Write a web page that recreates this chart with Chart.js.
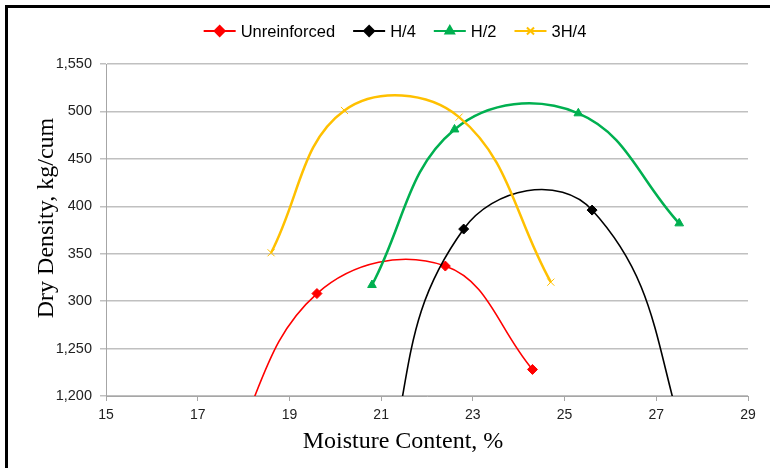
<!DOCTYPE html>
<html>
<head>
<meta charset="utf-8">
<script src="https://cdn.jsdelivr.net/npm/chart.js@4.4.1/dist/chart.umd.min.js"></script>
<style>
  html, body { margin: 0; padding: 0; background: #fff; }
  #wrap { position: relative; width: 770px; height: 468px; }
</style>
</head>
<body>
<div id="wrap"><canvas id="densityChart" width="770" height="468"></canvas></div>
<script>
// Dados (umidade %, densidade seca)
const unreinforcedX = [17.6, 19.6, 22.4, 24.3];
const unreinforcedY = [1130, 1308, 1337, 1228];
const h4X = [20.9, 22.8, 25.6, 28.0];
const h4Y = [1080, 1376, 1396, 1100];
const h2X = [20.8, 22.6, 25.3, 27.5];
const h2Y = [1317, 1481, 1498, 1382];
const h34X = [18.6, 20.2, 22.7, 24.7];
const h34Y = [1351, 1501, 1494, 1320];

const seriesNames = ['Unreinforced', 'H/4', 'H/2', '3H/4'];
const xTicks = [15, 17, 19, 21, 23, 25, 27, 29];
const yTicks = [1200, 1250, 1300, 1350, 1400, 1450, 1500, 1550];
const yTickLabels = ['1,200', '1,250', '300', '350', '400', '450', '500', '1,550'];

function toPoints(xs, ys) {
    return xs.map((x, i) => ({ x: x, y: ys[i] }));
}

// Moldura preta (topo e esquerda) e títulos dos eixos
const framePlugin = {
    id: 'frame',
    afterDraw(chart) {
        const ctx = chart.ctx;
        ctx.save();
        ctx.fillStyle = '#000';
        ctx.fillRect(5, 5, 765, 3);
        ctx.fillRect(5, 5, 3, 463);

        ctx.font = '24px "Liberation Serif", "Times New Roman", serif';
        ctx.textAlign = 'center';
        ctx.textBaseline = 'alphabetic';
        ctx.fillText('Moisture Content, %', 403, 448);

        ctx.translate(53, 218);
        ctx.rotate(-Math.PI / 2);
        ctx.fillText('Dry Density, kg/cum', 0, 0);
        ctx.restore();
    }
};

// Legenda no estilo do Excel: linha com marcador no meio
const legendPlugin = {
    id: 'excelLegend',
    afterDraw(chart) {
        const ctx = chart.ctx;
        const y = 31;
        const lineLen = 32;
        const gap = 5;
        const spacing = 18;
        ctx.save();
        ctx.font = '16.5px "Liberation Sans", Arial, sans-serif';
        ctx.textBaseline = 'middle';
        ctx.textAlign = 'left';
        const widths = chart.data.datasets.map(ds => lineLen + gap + ctx.measureText(ds.label).width);
        const total = widths.reduce((a, b) => a + b, 0) + spacing * (widths.length - 1);
        let x = 395 - total / 2;
        chart.data.datasets.forEach((ds, i) => {
            ctx.strokeStyle = ds.borderColor;
            ctx.lineWidth = 2;
            ctx.beginPath();
            ctx.moveTo(x, y);
            ctx.lineTo(x + lineLen, y);
            ctx.stroke();
            ctx.fillStyle = ds.pointBackgroundColor;
            ctx.strokeStyle = ds.pointBorderColor;
            Chart.helpers.drawPoint(ctx, {
                pointStyle: ds.pointStyle,
                radius: ds.pointRadius,
                rotation: 0,
                borderWidth: ds.pointBorderWidth
            }, x + lineLen / 2, y);
            ctx.fillStyle = '#000';
            ctx.fillText(ds.label, x + lineLen + gap, y + 1);
            x += widths[i] + spacing;
        });
        ctx.restore();
    }
};

function makeSet(label, xs, ys, color, style, width, order, tension) {
    return {
        label: label,
        data: toPoints(xs, ys),
        borderColor: color,
        backgroundColor: color,
        borderWidth: width,
        pointStyle: style,
        pointRadius: 5,
        pointBackgroundColor: color,
        pointBorderColor: color,
        pointBorderWidth: 1,
        showLine: true,
        tension: tension,
        order: order
    };
}

const ctx = document.getElementById('densityChart').getContext('2d');
new Chart(ctx, {
    type: 'scatter',
    data: {
        datasets: [
            makeSet(seriesNames[0], unreinforcedX, unreinforcedY, '#ff0000', 'rectRot', 1.6, 4, 0.4),
            makeSet(seriesNames[1], h4X, h4Y, '#000000', 'rectRot', 1.6, 3, 0.45),
            makeSet(seriesNames[2], h2X, h2Y, '#00b050', 'triangle', 2.5, 2, 0.4),
            makeSet(seriesNames[3], h34X, h34Y, '#ffc000', 'crossRot', 2.5, 1, 0.4)
        ]
    },
    options: {
        responsive: false,
        animation: false,
        events: [],
        layout: { padding: { top: 64, right: 22, bottom: 0, left: 0 } },
        elements: { line: { capBezierPoints: false } },
        plugins: {
            legend: { display: false },
            tooltip: { enabled: false }
        },
        scales: {
            x: {
                type: 'linear',
                min: 15,
                max: 29,
                afterFit(scale) { scale.height = 72; },
                afterBuildTicks(scale) { scale.ticks = xTicks.map(v => ({ value: v })); },
                ticks: {
                    color: '#222',
                    font: { family: '"Liberation Sans", Arial, sans-serif', size: 14 },
                    padding: 6,
                    maxRotation: 0
                },
                grid: { drawOnChartArea: false, drawTicks: true, tickLength: 5, color: '#a6a6a6', lineWidth: 1 },
                border: { display: true, color: '#a6a6a6', width: 1 }
            },
            y: {
                min: 1200,
                max: 1550,
                afterFit(scale) { scale.width = 106; },
                afterBuildTicks(scale) { scale.ticks = yTicks.map(v => ({ value: v })); },
                ticks: {
                    color: '#222',
                    font: { family: '"Liberation Sans", Arial, sans-serif', size: 14.5 },
                    padding: 8,
                    callback: function (value) {
                        const i = yTicks.indexOf(value);
                        return i >= 0 ? yTickLabels[i] : '';
                    }
                },
                grid: { drawTicks: true, tickLength: 6, color: '#c0c0c0', lineWidth: 1.5 },
                border: { display: true, color: '#a6a6a6', width: 1 }
            }
        }
    },
    plugins: [framePlugin, legendPlugin]
});
</script>
</body>
</html>
